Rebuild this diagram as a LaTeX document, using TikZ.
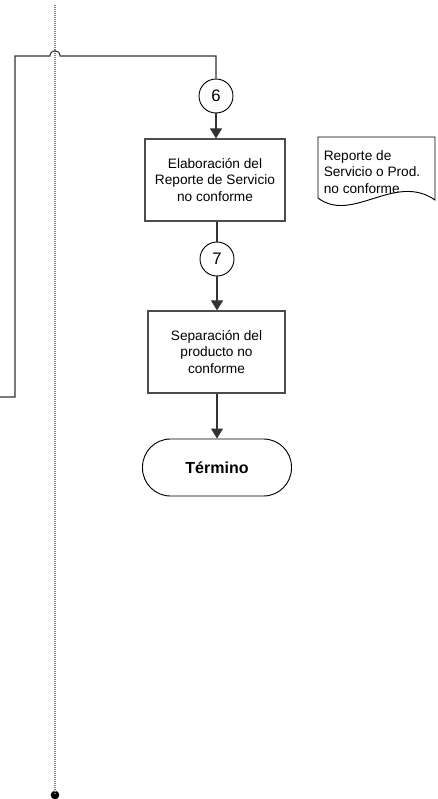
\documentclass[tikz,border=0pt]{standalone}
\usepackage{fontspec}
\setmainfont{Liberation Sans}
\usetikzlibrary{arrows.meta}
\begin{document}
\begin{tikzpicture}[x=0.75pt,y=-0.75pt,
  every node/.style={font=\fontsize{10.25}{12.6}\selectfont},
  procbox/.style={draw=black!70,line width=0.9pt,minimum height=61.5pt,align=center,inner sep=2pt},
  conn/.style={draw=black!80,line width=0.8pt},
  flowarrow/.style={conn,-{Triangle[length=7.5pt,width=9pt]}},
  marker/.style={circle,draw=black,line width=0.7pt,minimum size=25.5pt,inner sep=0pt,font=\fontsize{12.5}{14}\selectfont},
  endbox/.style={draw=black,line width=0.7pt,rounded corners=21pt,minimum width=111.75pt,minimum height=42.75pt,font=\fontsize{12}{14}\selectfont\bfseries},
  lifeline/.style={draw=black!50,line width=0.8pt,dash pattern=on 0.8pt off 0.7pt}
]
\useasboundingbox (0,0) rectangle (437,799);

% vertical lifeline with its end dot
\coordinate (ltop) at (55,5);
\node[circle,fill=black,minimum size=6.5pt,inner sep=0pt] (lend) at (55,795) {};
\path[lifeline] (ltop) -- (lend.center);

% main column
\node[marker] (c6) at (216,96) {6};
\node[procbox,minimum width=105pt] (b1) at (215,180) {Elaboración del\\Reporte de Servicio\\no conforme};
\node[marker] (c7) at (217,259) {7};
\node[procbox,minimum width=102.75pt] (b2) at (216.5,352) {Separación del\\producto no\\conforme};
\node[endbox] (fin) at (217,467.5) {Término};

% document symbol
\draw[black,line width=0.7pt] (318,198) -- (318,137) -- (435,137) -- (435,200)
  .. controls (395,172) and (352,224) .. (318,198);
\node[align=left,anchor=west,inner sep=0pt] (doc) at (323.5,172) {Reporte de\\Servicio o Prod.\\no conforme};

% incoming connector from the left, hopping over the lifeline
\coordinate (exitL) at (0,397);
\coordinate (cornerB) at (15,397);
\coordinate (cornerT) at (15,56);
\coordinate (hopA) at (50,56);
\coordinate (hopB) at (60,56);
\coordinate (cornerR) at (216,56);
\path[conn] (exitL) -- (cornerB) -- (cornerT) -- (hopA)
  .. controls (50,49) and (60,49) .. (hopB) -- (cornerR) -- (c6.north);

% flow connectors
\path[flowarrow] (c6.south) -- (c6.south |- b1.north);
\path[conn] (c7.north |- b1.south) -- (c7.north);
\path[flowarrow] (c7.south) -- (c7.south |- b2.north);
\path[flowarrow] (b2.south -| fin.north) -- (fin.north);
\end{tikzpicture}
\end{document}
